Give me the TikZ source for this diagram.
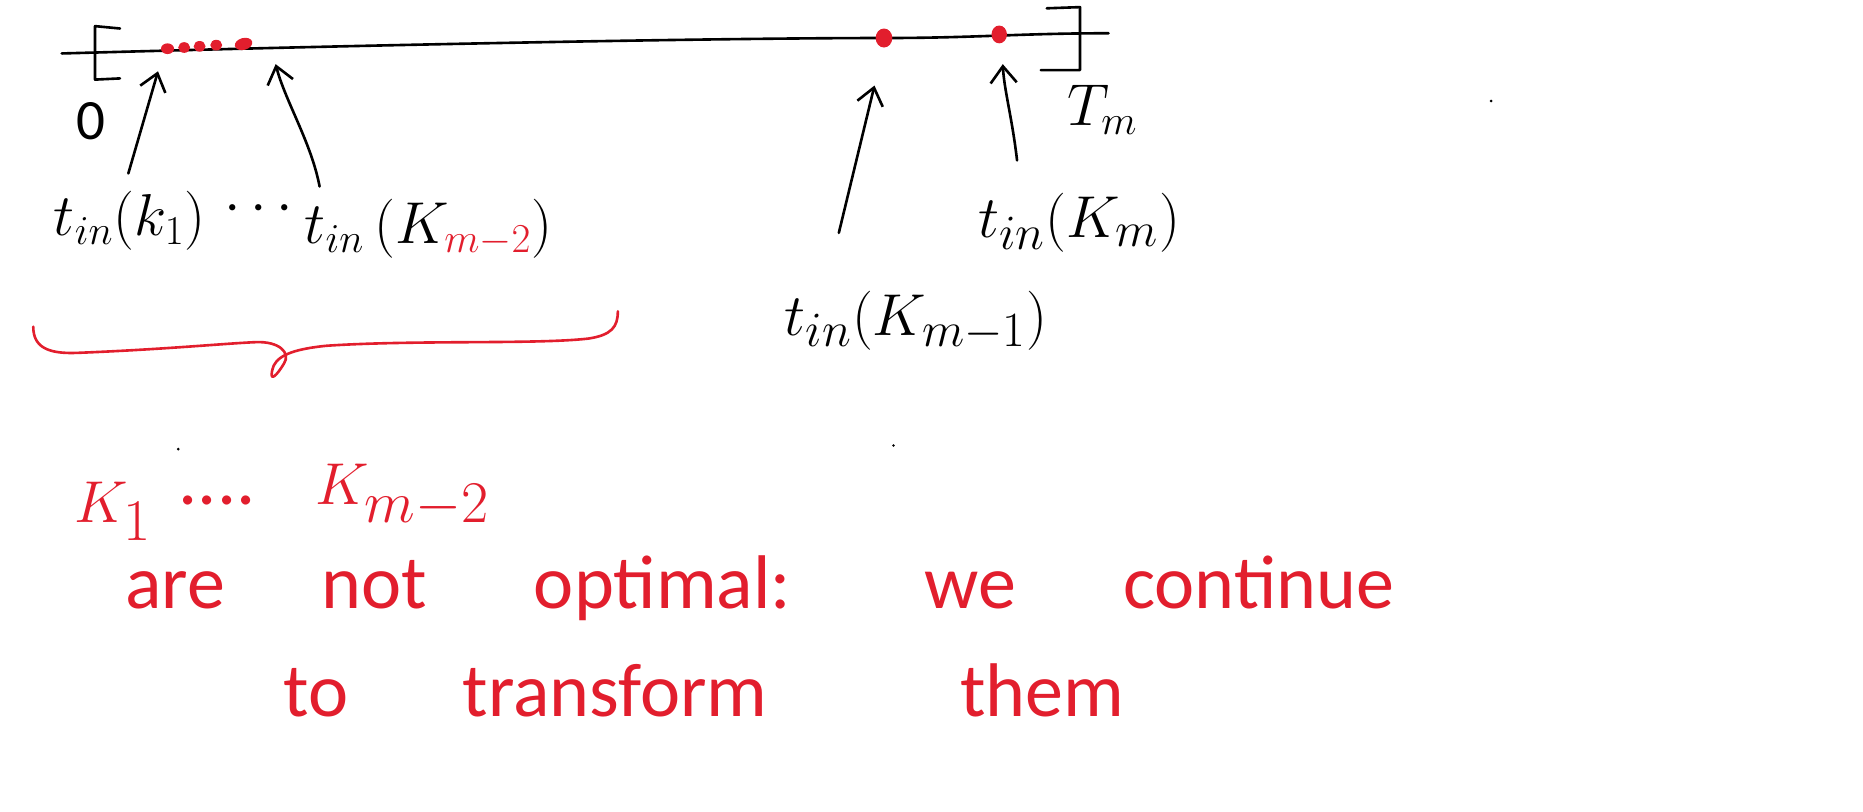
\documentclass[tikz,border=0pt]{standalone}
\usepackage{fontspec}
\setmainfont{Carlito}
\usetikzlibrary{arrows.meta,shapes.geometric}
\definecolor{pen}{RGB}{226,30,45}
\begin{document}
\begin{tikzpicture}[x=0.5pt,y=-0.5pt,line cap=round,line join=round,
  ink/.style={line width=1.1pt,draw=black},
  redink/.style={line width=1.1pt,draw=pen},
  arr/.style={ink,-{Straight Barb[length=7pt,width=11pt,line width=1.1pt]}},
  lbl/.style={inner sep=0pt,anchor=base west},
  redtxt/.style={inner sep=0pt,anchor=base west,text=pen,font=\fontsize{32}{38}\selectfont},
  dot/.style={ellipse,fill=pen,inner sep=0pt}]
\useasboundingbox (0,0) rectangle (1568,683);
% time axis
\coordinate (axL) at (52,45);
\coordinate (axR) at (933,28);
\draw[ink] (axL) .. controls (300,38) and (600,32) .. (745,32) .. controls (820,32) and (860,28) .. (axR);
% brackets
\draw[ink] (101,24) -- (80,22) -- (80,67) -- (101,66);
\draw[ink] (881,7) -- (909,6) -- (909,59) -- (876,59);
% red dots
\node[dot,minimum width=5.5pt,minimum height=4.5pt] (d1) at (141,41) {};
\node[dot,minimum width=5pt,minimum height=4.5pt] (d2) at (155,40) {};
\node[dot,minimum width=5pt,minimum height=4.5pt] (d3) at (168,39) {};
\node[dot,minimum width=5pt,minimum height=4.5pt] (d4) at (182,38) {};
\node[dot,minimum width=7.5pt,minimum height=5pt,rotate=15] (d5) at (205,37) {};
\node[dot,minimum width=7pt,minimum height=8pt] (dA) at (744,32) {};
\node[dot,minimum width=6.5pt,minimum height=7.5pt] (dB) at (841,29) {};
% end labels
\node[lbl,font=\fontsize{24}{28}\selectfont] (zero) at (64,117) {0};
\node[lbl,font=\fontsize{27}{30}\selectfont] (Tm) at (898,106) {$T_m$};
% arrow end points
\coordinate (a1s) at (108,146); \coordinate (a1e) at (133,60);
\coordinate (a2s) at (269,157); \coordinate (a2e) at (232,54);
\coordinate (a3s) at (706,196); \coordinate (a3e) at (736,72);
\coordinate (a4s) at (856,135); \coordinate (a4e) at (844,54);
\draw[arr] (a1s) -- (a1e);
\draw[arr] (a2s) .. controls (262,120) and (240,85) .. (a2e);
\draw[arr] (a3s) -- (a3e);
\draw[arr] (a4s) .. controls (852,100) and (845,75) .. (a4e);
% labels
\node[lbl,font=\fontsize{25}{30}\selectfont] (L1) at (45,198) {$t_{in}(k_1)$};
\node[inner sep=0pt,font=\fontsize{25}{30}\selectfont] (Ldots) at (218,176) {$\cdots$};
\node[lbl,font=\fontsize{25}{30}\selectfont] (L2) at (256,205) {$t_{in}\,\Big(K_{\textcolor{pen}{m-2}}\Big)$};
\node[lbl,font=\fontsize{28}{32}\selectfont] (L3) at (660,282) {$t_{in}\Big(K_{m-1}\Big)$};
\node[lbl,font=\fontsize{30}{34}\selectfont] (L4) at (823,200) {$t_{in}\Big(K_m\Big)$};
% red brace
\draw[redink] (28,275) .. controls (28,292) and (40,298) .. (65,297)
  .. controls (140,294) and (190,289) .. (215,288)
  .. controls (235,287) and (245,297) .. (239,306)
  .. controls (233,316) and (227,322) .. (229,312)
  .. controls (231,300) and (245,294) .. (275,291)
  .. controls (350,286) and (450,290) .. (495,285)
  .. controls (515,282) and (520,275) .. (520,262);
% red text
\node[redtxt,font=\fontsize{34}{40}\selectfont] (K1) at (62,440) {$K_1$};
\node[redtxt] (Kd) at (150,425) {....};
\node[redtxt,font=\fontsize{34}{40}\selectfont] (Km2) at (265,425) {$K_{m-2}$};
\node[redtxt] (w1) at (105,512) {are};
\node[redtxt] (w2) at (270,512) {not};
\node[redtxt] (w3) at (449,512) {optimal:};
\node[redtxt] (w4) at (778,512) {we};
\node[redtxt] (w5) at (945,512) {continue};
\node[redtxt] (w6) at (238,603) {to};
\node[redtxt] (w7) at (389,603) {transform};
\node[redtxt] (w8) at (808,603) {them};
% specks
\fill (1255,85) circle (0.6pt);
\fill (752,375) circle (0.6pt);
\fill (150,378) circle (0.6pt);
\end{tikzpicture}
\end{document}
